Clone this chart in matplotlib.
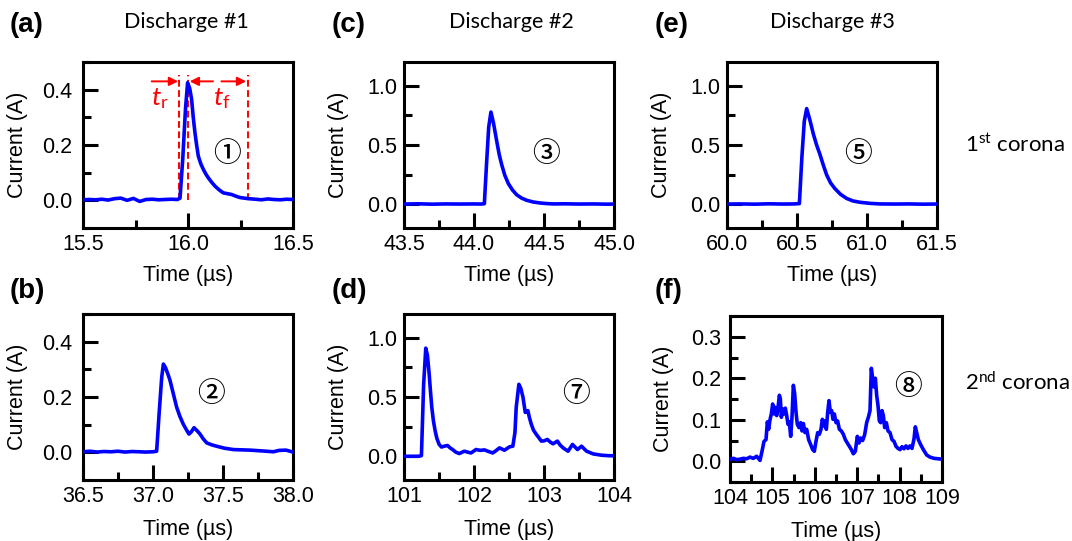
import matplotlib
matplotlib.use("Agg")
import matplotlib.pyplot as plt
from matplotlib.ticker import MultipleLocator, FormatStrFormatter

plt.rcParams['font.family'] = ['Liberation Sans', 'DejaVu Sans']
plt.rcParams['mathtext.fontset'] = 'custom'
plt.rcParams['mathtext.rm'] = 'Lato'
plt.rcParams['mathtext.it'] = 'Lato:italic'

# ---- current waveforms (time in µs, current in A) ----
t_a = [15.50, 15.53, 15.56, 15.59, 15.62, 15.65, 15.68, 15.71, 15.74, 15.77,
       15.80, 15.83, 15.86, 15.89, 15.92, 15.95, 15.962, 15.975, 15.988, 15.998,
       16.008, 16.017, 16.025, 16.033, 16.041, 16.049, 16.061, 16.073, 16.085, 16.097,
       16.113, 16.129, 16.148, 16.168, 16.188, 16.208, 16.228, 16.248, 16.268, 16.287,
       16.32, 16.35, 16.38, 16.41, 16.44, 16.47, 16.50]
i_a = [0.002, 0.003, 0.002, 0.004, 0.001, 0.006, 0.008, 0.000, 0.007, -0.004,
       0.003, 0.004, 0.002, 0.003, 0.004, 0.003, 0.008, 0.150, 0.330, 0.425,
       0.405, 0.366, 0.300, 0.245, 0.200, 0.160, 0.132, 0.112, 0.095, 0.081,
       0.065, 0.051, 0.038, 0.027, 0.024, 0.021, 0.015, 0.010, 0.008, 0.006,
       0.004, 0.002, 0.005, 0.003, 0.002, 0.004, 0.003]

t_b = [36.50, 36.55, 36.60, 36.65, 36.70, 36.75, 36.80, 36.85, 36.90, 36.95,
       37.00, 37.026, 37.045, 37.062, 37.074, 37.09, 37.105, 37.121, 37.145, 37.169,
       37.192, 37.216, 37.237, 37.257, 37.275, 37.293, 37.315, 37.336, 37.36, 37.384,
       37.42, 37.455, 37.51, 37.574, 37.63, 37.693, 37.75, 37.81, 37.86, 37.90,
       37.95, 38.0]
i_b = [0.002, 0.004, 0.001, 0.003, 0.002, 0.004, 0.001, 0.003, 0.002, 0.001,
       0.002, 0.004, 0.150, 0.270, 0.319, 0.305, 0.285, 0.261, 0.212, 0.163,
       0.130, 0.102, 0.083, 0.066, 0.075, 0.089, 0.078, 0.066, 0.048, 0.034,
       0.027, 0.022, 0.015, 0.010, 0.009, 0.008, 0.006, 0.004, 0.002, 0.007,
       0.008, 0.001]

t_c = [43.50, 43.60, 43.70, 43.80, 43.90, 44.00, 44.05, 44.074, 44.09, 44.105,
       44.121, 44.14, 44.162, 44.18, 44.198, 44.22, 44.245, 44.275, 44.305, 44.34,
       44.376, 44.42, 44.471, 44.52, 44.567, 44.65, 44.75, 44.85, 44.95, 45.00]
i_c = [0.002, 0.004, 0.001, 0.003, 0.002, 0.003, 0.002, 0.005, 0.350, 0.650,
       0.778, 0.680, 0.534, 0.420, 0.333, 0.245, 0.175, 0.120, 0.080, 0.052,
       0.034, 0.020, 0.011, 0.006, 0.003, 0.004, 0.002, 0.003, 0.001, 0.002]

t_d = [101.0, 101.1, 101.2, 101.249, 101.28, 101.311, 101.335, 101.359, 101.378, 101.397,
       101.42, 101.445, 101.47, 101.502, 101.535, 101.574, 101.622, 101.66, 101.694, 101.74,
       101.79, 101.861, 101.91, 101.957, 102.029, 102.09, 102.148, 102.21, 102.268, 102.32,
       102.364, 102.435, 102.47, 102.507, 102.555, 102.585, 102.603, 102.641, 102.67, 102.699,
       102.732, 102.77, 102.79, 102.818, 102.85, 102.89, 102.962, 103.0, 103.048, 103.09,
       103.129, 103.191, 103.23, 103.273, 103.344, 103.407, 103.44, 103.478, 103.536, 103.57,
       103.608, 103.703, 103.823, 103.92, 104.0]
i_d = [0.0, 0.0, 0.0, 0.005, 0.600, 0.912, 0.850, 0.698, 0.550, 0.413,
       0.300, 0.214, 0.150, 0.100, 0.078, 0.085, 0.091, 0.070, 0.057, 0.035,
       0.023, 0.043, 0.035, 0.028, 0.057, 0.050, 0.054, 0.040, 0.028, 0.050,
       0.071, 0.051, 0.065, 0.080, 0.085, 0.200, 0.413, 0.607, 0.570, 0.500,
       0.370, 0.385, 0.330, 0.271, 0.220, 0.185, 0.128, 0.130, 0.142, 0.120,
       0.105, 0.128, 0.095, 0.071, 0.043, 0.100, 0.080, 0.057, 0.085, 0.065,
       0.043, 0.020, 0.009, 0.005, 0.004]

t_e = [60.00, 60.10, 60.20, 60.30, 60.40, 60.48, 60.517, 60.535, 60.552, 60.569,
       60.59, 60.617, 60.64, 60.664, 60.688, 60.712, 60.74, 60.771, 60.81, 60.855,
       60.90, 60.95, 61.02, 61.093, 61.2, 61.3, 61.4, 61.5]
i_e = [0.002, 0.003, 0.001, 0.004, 0.002, 0.003, 0.006, 0.400, 0.700, 0.807,
       0.720, 0.592, 0.500, 0.420, 0.330, 0.247, 0.180, 0.132, 0.085, 0.049,
       0.028, 0.017, 0.008, 0.003, 0.002, 0.003, 0.001, 0.002]

t_f = [104.000, 104.079, 104.157, 104.236, 104.314, 104.393, 104.472, 104.550, 104.629, 104.708,
       104.763, 104.802, 104.849, 104.881, 104.912, 104.943, 104.975, 105.006, 105.038, 105.069,
       105.101, 105.132, 105.164, 105.187, 105.211, 105.242, 105.274, 105.305, 105.337, 105.368,
       105.399, 105.431, 105.462, 105.494, 105.525, 105.557, 105.588, 105.627, 105.667, 105.698,
       105.730, 105.769, 105.808, 105.855, 105.903, 105.950, 105.989, 106.028, 106.068, 106.107,
       106.146, 106.178, 106.209, 106.241, 106.272, 106.304, 106.335, 106.366, 106.398, 106.429,
       106.461, 106.500, 106.539, 106.579, 106.626, 106.673, 106.720, 106.767, 106.815, 106.862,
       106.909, 106.956, 107.003, 107.043, 107.082, 107.129, 107.176, 107.223, 107.263, 107.302,
       107.333, 107.365, 107.396, 107.428, 107.459, 107.491, 107.522, 107.554, 107.585, 107.617,
       107.648, 107.687, 107.727, 107.774, 107.821, 107.868, 107.915, 107.962, 108.010, 108.057,
       108.104, 108.151, 108.198, 108.245, 108.293, 108.340, 108.371, 108.403, 108.442, 108.497,
       108.560, 108.639, 108.717, 108.812, 108.906, 109.000]
i_f = [0.005, 0.007, 0.004, 0.005, 0.007, 0.006, 0.010, 0.007, 0.012, 0.002,
       0.028, 0.048, 0.052, 0.095, 0.077, 0.100, 0.114, 0.138, 0.114, 0.130,
       0.110, 0.128, 0.159, 0.151, 0.106, 0.126, 0.114, 0.128, 0.110, 0.089,
       0.095, 0.060, 0.106, 0.183, 0.163, 0.118, 0.089, 0.081, 0.093, 0.073,
       0.091, 0.069, 0.077, 0.052, 0.040, 0.028, 0.024, 0.048, 0.069, 0.065,
       0.077, 0.101, 0.085, 0.097, 0.077, 0.118, 0.146, 0.118, 0.122, 0.101,
       0.114, 0.093, 0.097, 0.077, 0.073, 0.065, 0.052, 0.044, 0.036, 0.028,
       0.018, 0.024, 0.060, 0.044, 0.056, 0.050, 0.064, 0.093, 0.106, 0.122,
       0.224, 0.200, 0.179, 0.200, 0.159, 0.134, 0.097, 0.093, 0.122, 0.110,
       0.081, 0.093, 0.073, 0.069, 0.052, 0.048, 0.036, 0.031, 0.028, 0.035,
       0.030, 0.037, 0.031, 0.037, 0.031, 0.054, 0.083, 0.069, 0.052, 0.040,
       0.028, 0.015, 0.010, 0.007, 0.006, 0.005]

panel_letters = ['(a)', '(b)', '(c)', '(d)', '(e)', '(f)']
discharge_titles = ['Discharge #1', 'Discharge #2', 'Discharge #3']
corona_labels = ['1$^{\\mathrm{st}}$ corona', '2$^{\\mathrm{nd}}$ corona']
pulse_marks = ['\u2460', '\u2461', '\u2462', '\u2466', '\u2464', '\u2467']
mark_pos = [(16.186, 0.171), (37.414, 0.213), (44.514, 0.43),
            (103.455, 0.53), (60.936, 0.43), (108.2, 0.18)]

# rise/fall time markers on the first pulse
t_edges = [15.959, 16.001, 16.284]

W, H = 1072, 541
fig = plt.figure(figsize=(W / 100, H / 100), dpi=100)


def px_axes(left, right, top, bottom):
    return fig.add_axes([left / W, 1 - bottom / H, (right - left) / W, (bottom - top) / H])


specs = [
    # (box px, data, xlim, xmajor, xminor, xfmt, ylim, ymajor, yminor, ypad, xlabel y)
    ((83, 293, 62, 228), (t_a, i_a), (15.5, 16.5), 0.5, 0.25, '%.1f', (-0.1, 0.5), 0.2, 0.1, 8, -0.22),
    ((83, 293, 314, 480), (t_b, i_b), (36.5, 38.0), 0.5, 0.25, '%.1f', (-0.1, 0.5), 0.2, 0.1, 8, -0.232),
    ((404, 614, 62, 228), (t_c, i_c), (43.5, 45.0), 0.5, 0.25, '%.1f', (-0.2, 1.2), 0.5, 0.25, 5, -0.22),
    ((404, 614, 314, 480), (t_d, i_d), (101, 104), 1, 0.5, '%d', (-0.2, 1.2), 0.5, 0.25, 5, -0.232),
    ((727, 937, 62, 228), (t_e, i_e), (60.0, 61.5), 0.5, 0.25, '%.1f', (-0.2, 1.2), 0.5, 0.25, 5, -0.22),
    ((730, 942, 316, 482), (t_f, i_f), (104, 109), 1, 0.5, '%d', (-0.05, 0.35), 0.1, 0.05, 6.5, -0.232),
]

axes = []
for k, (box, (tt, ii), xl, xmaj, xmin, xfmt, yl, ymaj, ymin, ypad, xly) in enumerate(specs):
    ax = px_axes(*box)
    ax.plot(tt, ii, color='#0000ff', lw=2.6, solid_joinstyle='round', zorder=3)
    ax.set_xlim(*xl)
    ax.set_ylim(*yl)
    ax.xaxis.set_major_locator(MultipleLocator(xmaj))
    ax.xaxis.set_minor_locator(MultipleLocator(xmin))
    ax.yaxis.set_major_locator(MultipleLocator(ymaj))
    ax.yaxis.set_minor_locator(MultipleLocator(ymin))
    ax.xaxis.set_major_formatter(FormatStrFormatter(xfmt))
    ax.yaxis.set_major_formatter(FormatStrFormatter('%.1f'))
    ax.tick_params(which='both', direction='in', top=False, right=False,
                   width=2.2, labelsize=15.5)
    ax.tick_params(axis='y', which='major', length=11, pad=ypad)
    ax.tick_params(axis='y', which='minor', length=6)
    ax.tick_params(axis='x', which='major', length=11, pad=4)
    ax.tick_params(axis='x', which='minor', length=6)
    for s in ax.spines.values():
        s.set_linewidth(2.2)
    ax.set_xlabel('Time (\u00b5s)', fontsize=15.5)
    ax.set_ylabel('Current (A)', fontsize=15.5)
    ax.xaxis.set_label_coords(0.5, xly)
    ax.yaxis.set_label_coords(-0.262, 0.5)
    mx, my = mark_pos[k]
    ax.text(mx, my, pulse_marks[k], fontsize=20, ha='center', va='center',
            fontweight='medium', family=['Noto Sans CJK JP', 'DejaVu Sans'], zorder=4)
    axes.append(ax)

# rise time / fall time annotation
ax = axes[0]
red = '#ff0000'
for te in t_edges:
    ax.plot([te, te], [0.0, 0.452], color=red, lw=1.4, ls=(0, (3.5, 1.8)), zorder=2)
arrow_kw = dict(arrowstyle='-|>', color=red, lw=1.4, mutation_scale=13,
                shrinkA=0, shrinkB=0)
ax.annotate('', xy=(15.953, 0.43), xytext=(15.827, 0.43), arrowprops=arrow_kw)
ax.annotate('', xy=(16.008, 0.43), xytext=(16.119, 0.43), arrowprops=arrow_kw)
ax.annotate('', xy=(16.277, 0.43), xytext=(16.159, 0.43), arrowprops=arrow_kw)
ax.text(15.867, 0.367, '$\\mathit{t}_{\\mathrm{r}}$', color=red, fontsize=19,
        ha='center', va='center')
ax.text(16.162, 0.367, '$\\mathit{t}_{\\mathrm{f}}$', color=red, fontsize=19,
        ha='center', va='center')

# panel letters
letter_xy = [(10, 25), (10, 291), (332, 25), (332, 291), (655, 25), (655, 291)]
for lab, (x, y) in zip(panel_letters, letter_xy):
    fig.text(x / W, 1 - y / H, lab, fontsize=20, fontweight='bold',
             ha='left', va='center')

# column titles
for lab, x in zip(discharge_titles, [186, 511, 832]):
    fig.text(x / W, 1 - 22 / H, lab, fontsize=15.5, family='Lato',
             ha='center', va='center')

# row labels
for lab, y in zip(corona_labels, [145, 383]):
    fig.text(965 / W, 1 - y / H, lab, fontsize=16, family='Lato',
             ha='left', va='center')

fig.savefig('out.png', dpi=100, facecolor='white')
